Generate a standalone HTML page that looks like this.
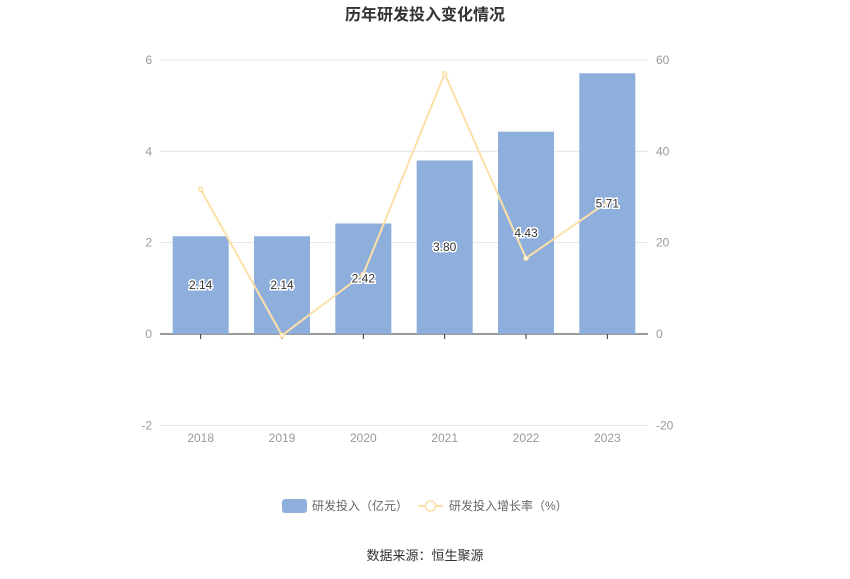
<!DOCTYPE html>
<html><head><meta charset="utf-8"><style>
body{margin:0;background:#fff;font-family:"Liberation Sans","Noto Sans CJK SC",sans-serif}
</style></head><body>
<svg id="chart" width="850" height="574" xmlns="http://www.w3.org/2000/svg" font-family="Liberation Sans, Noto Sans CJK SC, sans-serif">
<text x="425" y="20" text-anchor="middle" font-size="16" font-weight="bold" fill="#333">历年研发投入变化情况</text>
<g id="grid"></g><g id="bars"></g><g id="line"></g><g id="labels"></g>
<g>
<rect x="282" y="499" width="25" height="14" rx="3" fill="#8eaedb"/>
<text x="312" y="510" font-size="12" fill="#666">研发投入（亿元）</text>
<line x1="418" y1="506" x2="443" y2="506" stroke="#fde0a7" stroke-width="2"/>
<circle cx="430.5" cy="506" r="5" fill="#fff" stroke="#fde0a7" stroke-width="1.5"/>
<text x="449" y="510" font-size="12" fill="#666">研发投入增长率（%）</text>
</g>
<text x="425" y="560" text-anchor="middle" font-size="13" fill="#333">数据来源：恒生聚源</text>
</svg>
<script>
const years=["2018","2019","2020","2021","2022","2023"];
const rd=[2.14,2.14,2.42,3.80,4.43,5.71];
const growth=[31.7,-0.3,13.1,57.0,16.6,28.9];
const leftTicks=[-2,0,2,4,6];
const rightTicks=[-20,0,20,40,60];
const NS="http://www.w3.org/2000/svg";
const x0=160,x1=648,yTop=60,yBot=425;
const yL=v=>334-(v)*(334-yTop)/6;
const yR=v=>334-(v)*(334-yTop)/60;
const bw=(x1-x0)/years.length;
const xc=i=>x0+bw*(i+0.5);
function mk(t,a,p){const e=document.createElementNS(NS,t);for(const k in a)e.setAttribute(k,a[k]);p.appendChild(e);return e;}
const g=document.getElementById('grid'),b=document.getElementById('bars'),l=document.getElementById('line'),lb=document.getElementById('labels');
leftTicks.forEach((v,i)=>{
 const y=yL(v);
 const ln=mk('line',{x1:x0,x2:x1,y1:y,y2:y,stroke:v===0?'#333':'#e6e6e6','stroke-width':1},g);
 
 
 const t=mk('text',{x:x0-8,y:y+4,'text-anchor':'end','font-size':12,fill:'#999'},g);t.textContent=v;
 
 
 const t2=mk('text',{x:x1+8,y:yR(rightTicks[i])+4,'font-size':12,fill:'#999'},g);t2.textContent=rightTicks[i];
 
 
});
years.forEach((yr,i)=>{
 const x=xc(i);
 mk('line',{x1:x,x2:x,y1:334,y2:339,stroke:'#333'},g);
 const t=mk('text',{x:x,y:442,'text-anchor':'middle','font-size':12,fill:'#999'},g);t.textContent=yr;
 
 
 const r=mk('rect',{x:x-28,y:yL(rd[i]),width:56,height:yL(0)-yL(rd[i]),fill:'#8eaedb'},b);
 
 
});
const pts=growth.map((v,i)=>xc(i)+','+yR(v)).join(' ');
const pl=mk('polyline',{points:pts,fill:'none',stroke:'#fde0a7','stroke-width':2},l);


growth.forEach((v,i)=>{
 const c=mk('circle',{cx:xc(i),cy:yR(v),r:2,fill:'#fff',stroke:'#fde0a7','stroke-width':1.5},l);
 
 
});
rd.forEach((v,i)=>{
 const y=(yL(v)+yL(0))/2+4;
 const t=mk('text',{x:xc(i),y:y,'text-anchor':'middle','font-size':12,fill:'#333',stroke:'#fff','stroke-width':3,'paint-order':'stroke'},lb);
 t.textContent=v.toFixed(2);
 
 
});
</script>
</body></html>
